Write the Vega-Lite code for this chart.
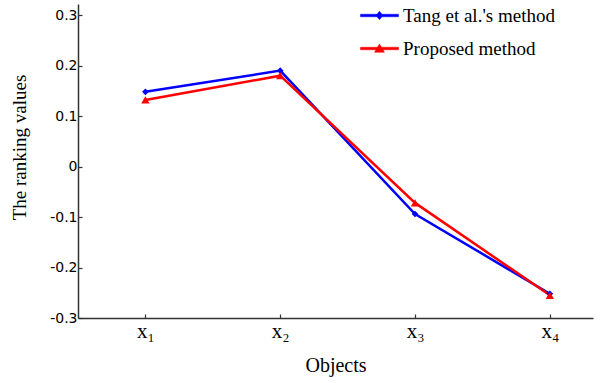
{
  "$schema": "https://vega.github.io/schema/vega-lite/v6.json",
  "width": 515,
  "height": 314,
  "autosize": "none",
  "padding": {"left": 78, "top": 4, "right": 20, "bottom": 65},
  "background": "white",
  "config": {"view": {"stroke": null}},
  "data": {"values": [
    {"obj": 1, "method": "Tang et al.'s method", "value": 0.148},
    {"obj": 2, "method": "Tang et al.'s method", "value": 0.190},
    {"obj": 3, "method": "Tang et al.'s method", "value": -0.094},
    {"obj": 4, "method": "Tang et al.'s method", "value": -0.252},
    {"obj": 1, "method": "Proposed method", "value": 0.132},
    {"obj": 2, "method": "Proposed method", "value": 0.180},
    {"obj": 3, "method": "Proposed method", "value": -0.072},
    {"obj": 4, "method": "Proposed method", "value": -0.255}
  ]},
  "encoding": {
    "x": {"field": "obj", "type": "quantitative",
      "scale": {"domain": [0.5, 4.32], "nice": false, "zero": false},
      "axis": {"values": [1, 2, 3, 4], "grid": false, "title": "Objects",
        "labelExpr": "'x' + ['₁','₂','₃','₄'][datum.value - 1]",
        "labelFont": "Liberation Serif", "labelFontSize": 21, "labelColor": "black", "labelPadding": 6,
        "titleFont": "Liberation Serif", "titleFontSize": 20, "titleFontWeight": "normal", "titleColor": "black", "titlePadding": 14,
        "domainColor": "#333", "domainWidth": 1.5, "tickColor": "#333", "tickWidth": 1.2, "tickSize": -4}},
    "y": {"field": "value", "type": "quantitative",
      "scale": {"domain": [-0.3, 0.322], "nice": false},
      "axis": {"values": [-0.3, -0.2, -0.1, 0, 0.1, 0.2, 0.3], "grid": false, "title": "The ranking values",
        "labelExpr": "abs(datum.value) < 1e-9 ? '0' : replace(format(datum.value, '.1f'), '−', '-')",
        "labelFont": "DejaVu Sans", "labelFontSize": 14, "labelColor": "black", "labelPadding": 5,
        "titleFont": "Liberation Serif", "titleFontSize": 19, "titleFontWeight": "normal", "titleColor": "black", "titlePadding": 20, "titleY": 143,
        "domainColor": "#333", "domainWidth": 1.5, "tickColor": "#333", "tickWidth": 1.2, "tickSize": -4}},
    "color": {"field": "method", "type": "nominal",
      "scale": {"domain": ["Tang et al.'s method", "Proposed method"], "range": ["#0000ff", "#ff0000"]}}
  },
  "layer": [
    {"mark": {"type": "line", "strokeWidth": 2.5},
     "encoding": {"color": {"field": "method", "type": "nominal",
       "scale": {"domain": ["Tang et al.'s method", "Proposed method"], "range": ["#0000ff", "#ff0000"]},
       "legend": {"orient": "none", "legendX": 282, "legendY": -8, "title": null,
         "symbolSize": 1444, "labelFont": "Liberation Serif", "labelFontSize": 19, "labelColor": "black",
         "rowPadding": 3, "labelOffset": 4, "labelLimit": 300,
         "encode": {"symbols": {"update": {
           "shape": {"signal": "indexof(datum.value, 'Tang') === 0 ? 'M-1,-0.066L1,-0.066L1,0.066L-1,0.066Z M0,-0.22L0.18,0L0,0.22L-0.18,0Z' : 'M-1,-0.066L1,-0.066L1,0.066L-1,0.066Z M0,-0.24L0.26,0.2L-0.26,0.2Z'"},
           "size": {"value": 1444},
           "fill": {"signal": "scale('color', datum.value)"},
           "fillOpacity": {"value": 1},
           "stroke": {"signal": "scale('color', datum.value)"},
           "strokeWidth": {"value": 0.5}}}}}}}},
    {"mark": {"type": "point", "filled": true, "opacity": 1},
     "encoding": {
       "shape": {"condition": {"test": "datum.method === 'Proposed method'", "value": "triangle-up"}, "value": "diamond"},
       "size": {"condition": {"test": "datum.method === 'Proposed method'", "value": 70}, "value": 45},
       "color": {"field": "method", "type": "nominal", "legend": null}}}
  ]
}
